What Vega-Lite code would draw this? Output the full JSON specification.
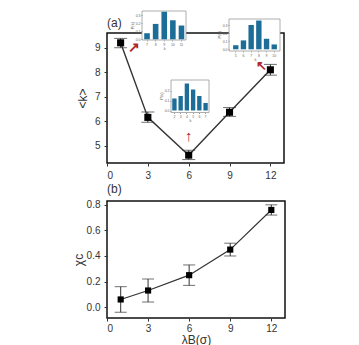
{
  "$schema": "https://vega.github.io/schema/vega-lite/v6.json",
  "padding": {"left": 71, "top": 9, "right": 5, "bottom": 2},
  "spacing": 1,
  "config": {
    "font": "Liberation Sans",
    "view": {"stroke": "#111", "strokeWidth": 1.5},
    "axis": {"labelFont": "Liberation Sans", "labelFontSize": 10, "labelColor": "#333", "tickColor": "#333", "tickSize": 3, "labelPadding": 4, "labelOverlap": false, "domain": false, "grid": false, "titleFont": "Liberation Sans", "titleFontWeight": "normal", "titleColor": "#333", "titleFontSize": 12}
  },
  "datasets": {
    "a": [
      {"x": 1, "y": 9.2, "lo": 9.0, "hi": 9.38},
      {"x": 3, "y": 6.16, "lo": 5.96, "hi": 6.38},
      {"x": 6, "y": 4.62, "lo": 4.44, "hi": 4.82},
      {"x": 9, "y": 6.37, "lo": 6.2, "hi": 6.56},
      {"x": 12, "y": 8.1, "lo": 7.88, "hi": 8.32}
    ],
    "b": [
      {"x": 1, "y": 0.06, "lo": -0.04, "hi": 0.16},
      {"x": 3, "y": 0.13, "lo": 0.04, "hi": 0.22},
      {"x": 6, "y": 0.25, "lo": 0.17, "hi": 0.33},
      {"x": 9, "y": 0.45, "lo": 0.40, "hi": 0.50},
      {"x": 12, "y": 0.76, "lo": 0.72, "hi": 0.80}
    ],
    "i1": [
      {"k": 7, "p": 0.075}, {"k": 8, "p": 0.19}, {"k": 9, "p": 0.34}, {"k": 10, "p": 0.235}, {"k": 11, "p": 0.17}
    ],
    "i2": [
      {"k": 5, "p": 0.05}, {"k": 6, "p": 0.11}, {"k": 7, "p": 0.30}, {"k": 8, "p": 0.355}, {"k": 9, "p": 0.13}, {"k": 10, "p": 0.06}
    ],
    "i3": [
      {"k": 2, "p": 0.12}, {"k": 3, "p": 0.145}, {"k": 4, "p": 0.27}, {"k": 5, "p": 0.21}, {"k": 6, "p": 0.145}, {"k": 7, "p": 0.075}
    ],
    "one": [{"n": 1}]
  },
  "vconcat": [
    {
      "width": 177,
      "height": 130,
      "resolve": {"scale": {"x": "independent", "y": "independent"}},
      "layer": [
        {
          "layer": [
            {"data": {"name": "a"},
             "mark": {"type": "line", "color": "#333", "strokeWidth": 1.4},
             "encoding": {
               "x": {"field": "x", "type": "quantitative", "scale": {"domain": [0, 13], "nice": false, "zero": false}, "axis": {"values": [0, 3, 6, 9, 12], "title": null, "labelOverlap": false}},
               "y": {"field": "y", "type": "quantitative", "scale": {"domain": [4.3, 9.6], "nice": false, "zero": false}, "axis": {"values": [5, 6, 7, 8, 9], "tickCount": 5, "labelOverlap": false, "title": "<k>", "titlePadding": 5}}}},
            {"data": {"name": "a"},
             "mark": {"type": "rule", "color": "#333", "strokeWidth": 1},
             "encoding": {"x": {"field": "x", "type": "quantitative"}, "y": {"field": "lo", "type": "quantitative"}, "y2": {"field": "hi"}}},
            {"data": {"name": "a"},
             "mark": {"type": "tick", "orient": "horizontal", "color": "#333", "size": 13, "thickness": 1},
             "encoding": {"x": {"field": "x", "type": "quantitative"}, "y": {"field": "lo", "type": "quantitative"}}},
            {"data": {"name": "a"},
             "mark": {"type": "tick", "orient": "horizontal", "color": "#333", "size": 13, "thickness": 1},
             "encoding": {"x": {"field": "x", "type": "quantitative"}, "y": {"field": "hi", "type": "quantitative"}}},
            {"data": {"name": "a"},
             "mark": {"type": "point", "shape": "square", "filled": true, "color": "#000", "size": 50, "opacity": 1},
             "encoding": {"x": {"field": "x", "type": "quantitative"}, "y": {"field": "y", "type": "quantitative"}}},
            {"data": {"name": "one"},
             "mark": {"type": "text", "text": "(a)", "align": "left", "baseline": "alphabetic", "fontSize": 12, "color": "#333"},
             "encoding": {"x": {"datum": 0}, "y": {"datum": 9.845}}},
            {"data": {"name": "one"},
             "mark": {"type": "text", "text": "↗", "align": "center", "baseline": "middle", "fontSize": 14, "fontWeight": "bold", "color": "#b3262a"},
             "encoding": {"x": {"datum": 1.95}, "y": {"datum": 8.97}}},
            {"data": {"name": "one"},
             "mark": {"type": "text", "text": "↑", "align": "center", "baseline": "middle", "fontSize": 15, "fontWeight": "bold", "color": "#b3262a"},
             "encoding": {"x": {"datum": 6}, "y": {"datum": 5.41}}},
            {"data": {"name": "one"},
             "mark": {"type": "text", "text": "↖", "align": "center", "baseline": "middle", "fontSize": 13, "fontWeight": "bold", "color": "#b3262a"},
             "encoding": {"x": {"datum": 11.35}, "y": {"datum": 8.25}}}
          ]
        },
        {
          "data": {"name": "one"},
          "mark": {"type": "rect", "fill": "white", "stroke": "#999", "strokeWidth": 0.8},
          "encoding": {
            "x": {"datum": 0, "type": "quantitative", "scale": {"domain": [0, 1], "range": [35, 79]}, "axis": null},
            "x2": {"datum": 1},
            "y": {"datum": 0, "type": "quantitative", "scale": {"domain": [0, 1], "range": [7, -22]}, "axis": null},
            "y2": {"datum": 1}
          }
        },
        {
          "data": {"name": "i1"},
          "mark": {"type": "bar", "color": "#1c6e98"},
          "encoding": {
            "x": {"field": "k", "type": "ordinal", "scale": {"range": [35.5, 79], "paddingInner": 0.35, "paddingOuter": 0.2},
                  "axis": {"orient": "bottom", "offset": -123, "title": "k", "labelFontSize": 3.5, "titleFontSize": 4, "tickSize": 1, "labelPadding": 1, "titlePadding": 0.5, "labelAngle": 0, "zindex": 1, "labelColor": "#666", "tickColor": "#999", "titleColor": "#666"}},
            "y": {"field": "p", "type": "quantitative", "scale": {"domain": [0, 0.35], "range": [6.3, -22.05], "nice": false},
                  "axis": {"orient": "left", "offset": -35, "values": [0, 0.1, 0.2, 0.3], "format": ".1f", "title": "P(k)", "labelFontSize": 3.5, "titleFontSize": 4, "tickSize": 1, "labelPadding": 1, "titlePadding": 1, "zindex": 1, "labelColor": "#666", "tickColor": "#999", "titleColor": "#666"}}
          }
        },
        {
          "data": {"name": "one"},
          "mark": {"type": "rect", "fill": "white", "stroke": "#999", "strokeWidth": 0.8},
          "encoding": {
            "x": {"datum": 0, "type": "quantitative", "scale": {"domain": [0, 1], "range": [122, 173]}, "axis": null},
            "x2": {"datum": 1},
            "y": {"datum": 0, "type": "quantitative", "scale": {"domain": [0, 1], "range": [18, -14]}, "axis": null},
            "y2": {"datum": 1}
          }
        },
        {
          "data": {"name": "i2"},
          "mark": {"type": "bar", "color": "#1c6e98"},
          "encoding": {
            "x": {"field": "k", "type": "ordinal", "scale": {"range": [123, 173], "paddingInner": 0.3, "paddingOuter": 0.4},
                  "axis": {"orient": "bottom", "offset": -112, "title": "k", "labelFontSize": 3.5, "titleFontSize": 4, "tickSize": 1, "labelPadding": 1, "titlePadding": 0.5, "labelAngle": 0, "zindex": 1, "labelColor": "#666", "tickColor": "#999", "titleColor": "#666"}},
            "y": {"field": "p", "type": "quantitative", "scale": {"domain": [0, 0.37], "range": [16.3, -13.67], "nice": false},
                  "axis": {"orient": "left", "offset": -122, "values": [0, 0.1, 0.2, 0.3], "format": ".1f", "title": "P(k)", "labelFontSize": 3.5, "titleFontSize": 4, "tickSize": 1, "labelPadding": 1, "titlePadding": 1, "zindex": 1, "labelColor": "#666", "tickColor": "#999", "titleColor": "#666"}}
          }
        },
        {
          "data": {"name": "one"},
          "mark": {"type": "rect", "fill": "white", "stroke": "#999", "strokeWidth": 0.8},
          "encoding": {
            "x": {"datum": 0, "type": "quantitative", "scale": {"domain": [0, 1], "range": [64, 102]}, "axis": null},
            "x2": {"datum": 1},
            "y": {"datum": 0, "type": "quantitative", "scale": {"domain": [0, 1], "range": [79.5, 47]}, "axis": null},
            "y2": {"datum": 1}
          }
        },
        {
          "data": {"name": "i3"},
          "mark": {"type": "bar", "color": "#1c6e98"},
          "encoding": {
            "x": {"field": "k", "type": "ordinal", "scale": {"range": [64, 102], "paddingInner": 0.3, "paddingOuter": 0.2},
                  "axis": {"orient": "bottom", "offset": -50.5, "title": "k", "labelFontSize": 3.5, "titleFontSize": 4, "tickSize": 1, "labelPadding": 1, "titlePadding": 0.5, "labelAngle": 0, "zindex": 1, "labelColor": "#666", "tickColor": "#999", "titleColor": "#666"}},
            "y": {"field": "p", "type": "quantitative", "scale": {"domain": [0, 0.3], "range": [77.5, 47.5], "nice": false},
                  "axis": {"orient": "left", "offset": -64, "values": [0, 0.1, 0.2], "format": ".1f", "title": "P(k)", "labelFontSize": 3.5, "titleFontSize": 4, "tickSize": 1, "labelPadding": 1, "titlePadding": 1, "zindex": 1, "labelColor": "#666", "tickColor": "#999", "titleColor": "#666"}}
          }
        }
      ]
    },
    {
      "width": 178,
      "height": 117,
      "layer": [
        {"data": {"name": "b"},
         "mark": {"type": "line", "color": "#333", "strokeWidth": 1.2},
         "encoding": {
           "x": {"field": "x", "type": "quantitative", "scale": {"domain": [0, 13], "nice": false, "zero": false}, "axis": {"values": [0, 3, 6, 9, 12], "labelOverlap": false, "labelPadding": 2, "title": "λB(σ)", "titlePadding": 1}},
           "y": {"field": "y", "type": "quantitative", "scale": {"domain": [-0.085, 0.83], "nice": false, "zero": false}, "axis": {"values": [0, 0.2, 0.4, 0.6, 0.8], "tickCount": 5, "labelOverlap": false, "format": ".1f", "title": "χc", "titlePadding": 1}}}},
        {"data": {"name": "b"},
         "mark": {"type": "rule", "color": "#333", "strokeWidth": 1},
         "encoding": {"x": {"field": "x", "type": "quantitative"}, "y": {"field": "lo", "type": "quantitative"}, "y2": {"field": "hi"}}},
        {"data": {"name": "b"},
         "mark": {"type": "tick", "orient": "horizontal", "color": "#333", "size": 12, "thickness": 1},
         "encoding": {"x": {"field": "x", "type": "quantitative"}, "y": {"field": "lo", "type": "quantitative"}}},
        {"data": {"name": "b"},
         "mark": {"type": "tick", "orient": "horizontal", "color": "#333", "size": 12, "thickness": 1},
         "encoding": {"x": {"field": "x", "type": "quantitative"}, "y": {"field": "hi", "type": "quantitative"}}},
        {"data": {"name": "b"},
         "mark": {"type": "point", "shape": "square", "filled": true, "color": "#000", "size": 38, "opacity": 1},
         "encoding": {"x": {"field": "x", "type": "quantitative"}, "y": {"field": "y", "type": "quantitative"}}},
        {"data": {"name": "one"},
         "mark": {"type": "text", "text": "(b)", "align": "left", "baseline": "alphabetic", "fontSize": 12, "color": "#333"},
         "encoding": {"x": {"datum": 0}, "y": {"datum": 0.893}}}
      ]
    }
  ]
}
